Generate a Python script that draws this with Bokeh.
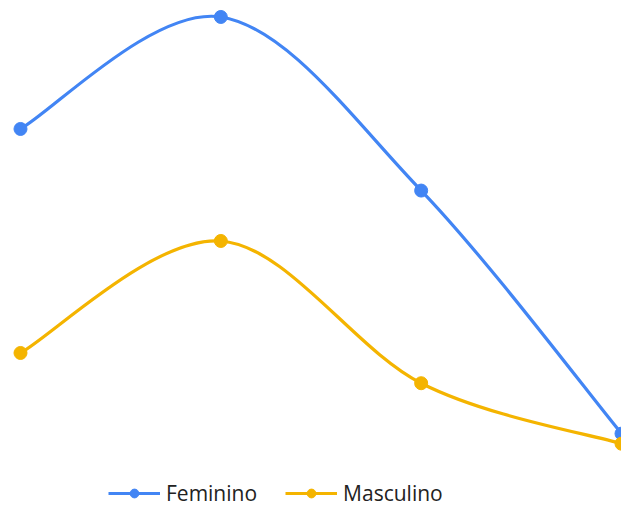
import numpy as np
from bokeh.plotting import figure
from bokeh.models import Range1d, Legend, LegendItem
from bokeh.embed import file_html
from bokeh.resources import INLINE

categories = ["A", "B", "C", "D"]
feminino = [29.6, 39.6, 24.1, 2.4]
masculino = [9.6, 19.6, 6.9, 1.5]

series = [("Feminino", feminino, "#4285F4"), ("Masculino", masculino, "#F4B400")]

p = figure(width=621, height=507, output_backend="svg", toolbar_location=None,
           x_range=Range1d(-0.0998, 3.0), y_range=Range1d(-4.196, 41.07),
           min_border=0)
p.axis.visible = False
p.grid.visible = False
p.outline_line_color = None
p.background_fill_color = "white"
p.border_fill_color = "white"


def controls(xs, ys, k=1.0 / 6.0):
    xs = np.asarray(xs, float)
    ys = np.asarray(ys, float)
    xp = np.concatenate([[xs[0]], xs, [xs[-1]]])
    yp = np.concatenate([[ys[0]], ys, [ys[-1]]])
    tx = (xp[2:] - xp[:-2]) * k
    ty = (yp[2:] - yp[:-2]) * k
    return (xs[:-1], ys[:-1], xs[1:], ys[1:],
            xs[:-1] + tx[:-1], ys[:-1] + ty[:-1],
            xs[1:] - tx[1:], ys[1:] - ty[1:])

items = []
xs = list(range(len(categories)))
for name, vals, color in series:
    x0, y0, x1, y1, cx0, cy0, cx1, cy1 = controls(xs, vals)
    b = p.bezier(x0=x0, y0=y0, x1=x1, y1=y1, cx0=cx0, cy0=cy0, cx1=cx1, cy1=cy1,
                 line_color=color, line_width=3.2)
    s = p.scatter(xs, vals, size=13, color=color)
    items.append(LegendItem(label=name, renderers=[b, s]))

legend = Legend(items=items, orientation="horizontal", location=(108, 0),
                glyph_width=52, glyph_height=22, label_height=22,
                label_standoff=6, spacing=28, padding=0, margin=0,
                border_line_color=None, background_fill_alpha=0,
                label_text_font="Open Sans", label_text_font_size="21px",
                label_text_color="#222222")
p.add_layout(legend, "center")

open("out.html", "w").write(file_html(p, INLINE))
